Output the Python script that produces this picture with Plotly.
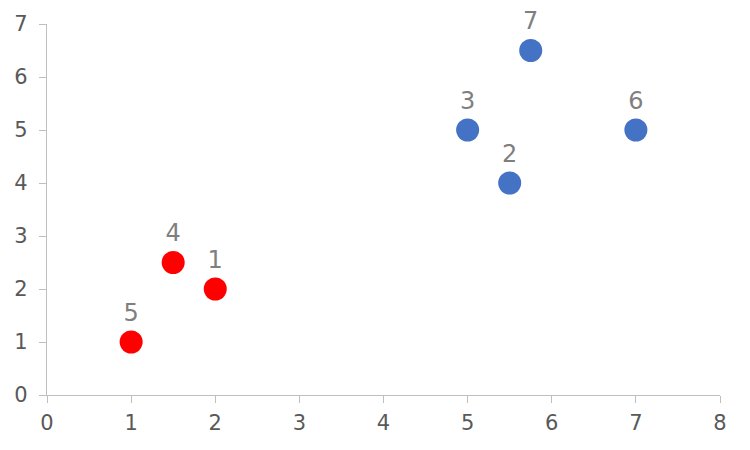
import plotly.graph_objects as go

red_x = [2, 1.5, 1]
red_y = [2, 2.5, 1]
red_labels = ["1", "4", "5"]

blue_x = [5.5, 5, 7, 5.75]
blue_y = [4, 5, 5, 6.5]
blue_labels = ["2", "3", "6", "7"]

x_ticks = [0, 1, 2, 3, 4, 5, 6, 7, 8]
y_ticks = [0, 1, 2, 3, 4, 5, 6, 7]

FONT = "DejaVu Sans, Verdana, sans-serif"

fig = go.Figure()
fig.add_trace(go.Scatter(
    x=red_x, y=red_y, mode="markers+text", text=red_labels,
    textposition="top center",
    textfont=dict(family=FONT, size=24, color="#7F7F7F"),
    marker=dict(color="#FF0000", size=23, line=dict(width=0)),
    cliponaxis=False, showlegend=False,
))
fig.add_trace(go.Scatter(
    x=blue_x, y=blue_y, mode="markers+text", text=blue_labels,
    textposition="top center",
    textfont=dict(family=FONT, size=24, color="#7F7F7F"),
    marker=dict(color="#4472C4", size=23, line=dict(width=0)),
    cliponaxis=False, showlegend=False,
))

axis_common = dict(
    showgrid=False, zeroline=False, showline=True, linecolor="#BFBFBF",
    linewidth=1.3, ticks="outside", ticklen=7, tickcolor="#BFBFBF",
    tickwidth=1.3, tickfont=dict(family=FONT, size=21, color="#595959"),
    automargin=False,
)
fig.update_xaxes(range=[0, 8], tickvals=x_ticks, ticktext=[str(v) for v in x_ticks],
                 ticklabelstandoff=2, **axis_common)
fig.update_yaxes(range=[0, 7], tickvals=y_ticks, ticktext=[str(v) for v in y_ticks],
                 ticklabelstandoff=7, **axis_common)

fig.update_layout(
    width=750, height=450,
    margin=dict(l=39, r=38, t=16, b=63),
    plot_bgcolor="white", paper_bgcolor="white",
)

fig.write_html("out.html")
